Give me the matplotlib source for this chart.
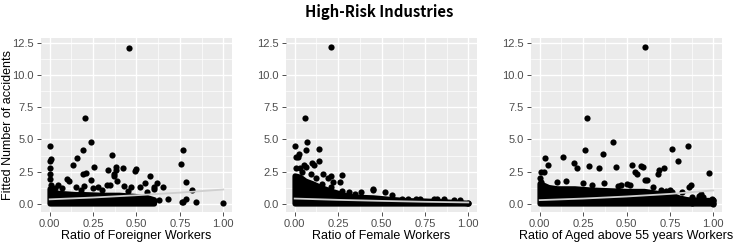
import matplotlib.pyplot as plt

# ---- data ----
# panel 1: ratio of foreigner workers
fore_x = [0.456, 0.204, 0.24, 0.0, 0.19, 0.36, 0.16, 0.01, 0.137, 0.253, 0.38, 0.38, 0.49, 0.50,
          0.42, 0.335, 0.19, 0.21, 0.37, 0.37, 0.58, 0.237, 0.39, 0.756, 0.77, 0.784, 0.82, 0.784,
          0.77, 0.76, 0.843, 1.0, 0.68, 0.63, 0.60, 0.62, 0.65, 0.60, 0.55, 0.52, 0.47, 0.43, 0.35,
          0.33, 0.28, 0.10, 0.11, 0.05, 0.07, 0.15, 0.20, 0.0, 0.0, 0.0, 0.0, 0.005, 0.25, 0.30,
          0.45, 0.56, 0.18, 0.03]
fore_y = [12.1, 6.65, 4.78, 4.5, 4.15, 3.8, 3.55, 3.5, 3.0, 2.88, 2.9, 2.62, 2.55, 2.7,
          2.75, 2.63, 2.3, 2.4, 2.3, 2.2, 2.2, 1.85, 1.75, 3.1, 4.2, 1.7, 1.05, 0.37,
          0.15, 0.15, 0.15, 0.08, 0.36, 0.3, 1.3, 1.65, 1.35, 1.15, 1.6, 1.35, 1.3, 1.4, 1.5,
          1.45, 1.35, 1.9, 1.75, 1.5, 1.2, 1.3, 1.4, 3.3, 2.8, 2.3, 1.9, 1.5, 1.2, 1.1,
          1.0, 0.9, 1.1, 1.25]
fore_band_x = [0.0, 0.02, 0.05, 0.1, 0.15, 0.2, 0.3, 0.4, 0.5, 0.55, 0.6]
fore_band_top = [1.2, 0.95, 0.85, 0.8, 0.75, 0.75, 0.7, 0.7, 0.6, 0.55, 0.35]
fore_fit_x = [0.0, 0.25, 0.5, 0.75, 1.0]
fore_fit_y = [0.36, 0.5, 0.68, 0.88, 1.12]

# panel 2: ratio of female workers
fem_x = [0.207, 0.06, 0.073, 0.0, 0.14, 0.065, 0.027, 0.01, 0.02, 0.14, 0.10, 0.11, 0.055, 0.065,
         0.01, 0.165, 0.27, 0.21, 0.19, 0.094, 0.044, 0.16, 0.22, 0.26, 0.21, 0.27, 0.31, 0.38,
         0.45, 0.45, 0.52, 0.56, 0.62, 0.65, 0.70, 0.72, 0.80, 0.82, 0.86, 0.92, 0.95, 1.0,
         0.35, 0.12, 0.03]
fem_y = [12.15, 6.67, 4.8, 4.5, 4.25, 4.15, 3.85, 3.6, 3.6, 3.3, 3.15, 3.0, 3.0, 2.9,
         2.75, 2.3, 2.25, 2.15, 2.0, 2.3, 2.5, 1.55, 1.7, 1.7, 1.35, 1.0, 0.9, 0.95,
         1.15, 1.05, 0.9, 0.7, 0.42, 0.4, 0.42, 0.4, 0.42, 0.4, 0.35, 0.3, 0.3, 0.05,
         0.75, 2.0, 2.8]
fem_band_x = [0.0, 0.03, 0.06, 0.1, 0.15, 0.2, 0.25, 0.3, 0.35, 0.45, 0.55, 0.65, 0.75, 0.85, 0.95, 1.0]
fem_band_top = [2.2, 2.1, 1.8, 1.6, 1.3, 1.05, 0.85, 0.65, 0.55, 0.5, 0.38, 0.28, 0.25, 0.2, 0.12, 0.08]
fem_fit_x = [0.0, 0.25, 0.5, 0.75, 1.0]
fem_fit_y = [0.42, 0.32, 0.24, 0.17, 0.12]

# panel 3: ratio of aged above 55 years workers
aged_x = [0.607, 0.272, 0.423, 0.854, 0.76, 0.259, 0.366, 0.033, 0.136, 0.795, 0.05, 0.20, 0.284,
          0.44, 0.343, 0.53, 0.582, 0.594, 0.715, 0.69, 0.68, 0.973, 0.213, 0.008, 0.027, 0.55,
          0.56, 0.607, 0.62, 0.37, 0.467, 0.50, 0.86, 0.87, 0.82, 0.78, 0.83, 0.875, 0.90, 0.93,
          0.94, 1.0, 1.0, 0.955, 0.0, 0.01, 0.10, 0.15, 0.25, 0.30, 0.45, 0.52, 0.65, 0.70, 0.73,
          0.75, 0.76, 0.85, 0.88, 0.92, 0.97, 0.99]
aged_y = [12.15, 6.67, 4.8, 4.5, 4.25, 4.15, 3.85, 3.55, 3.6, 3.3, 3.05, 3.15, 2.97,
          2.9, 2.8, 3.0, 2.97, 2.9, 2.77, 2.6, 2.35, 2.4, 2.77, 2.5, 2.45, 2.45,
          2.3, 1.83, 1.83, 1.6, 1.47, 1.55, 1.3, 1.45, 0.95, 0.55, 0.3, 0.05, 0.3, 0.8,
          0.55, 0.3, 0.0, 0.2, 2.0, 1.7, 1.7, 1.8, 1.6, 1.5, 1.4, 1.5, 1.3, 1.05, 1.0,
          1.1, 0.95, 0.3, 0.55, 0.6, 0.2, 0.4]
aged_band_x = [0.0, 0.05, 0.1, 0.2, 0.3, 0.4, 0.5, 0.55, 0.6, 0.65, 0.7, 0.75, 0.8, 0.85, 0.9, 0.95, 1.0]
aged_band_top = [1.6, 1.3, 1.2, 1.2, 1.1, 1.05, 1.0, 1.0, 1.0, 0.9, 0.8, 0.75, 0.5, 0.35, 0.3, 0.3, 0.3]
aged_fit_x = [0.0, 0.25, 0.5, 0.75, 1.0]
aged_fit_y = [0.3, 0.42, 0.58, 0.78, 1.05]

x_ticks = [0.0, 0.25, 0.5, 0.75, 1.0]
x_ticklabels = ['0.00', '0.25', '0.50', '0.75', '1.00']
y_ticks = [0.0, 2.5, 5.0, 7.5, 10.0, 12.5]
y_ticklabels = ['0.0', '2.5', '5.0', '7.5', '10.0', '12.5']

panels = [
    (fore_x, fore_y, fore_band_x, fore_band_top, fore_fit_x, fore_fit_y, 'Ratio of Foreigner Workers'),
    (fem_x, fem_y, fem_band_x, fem_band_top, fem_fit_x, fem_fit_y, 'Ratio of Female Workers'),
    (aged_x, aged_y, aged_band_x, aged_band_top, aged_fit_x, aged_fit_y, 'Ratio of Aged above 55 years Workers'),
]

plt.rcParams['font.family'] = ['Liberation Sans', 'DejaVu Sans']

fig = plt.figure(figsize=(7.35, 2.46), dpi=100)
lefts = [41 / 735, 286 / 735, 531 / 735]

for i, (px, py, bx, btop, fx, fy, xlabel) in enumerate(panels):
    ax = fig.add_axes([lefts[i], 34 / 246, 191 / 735, 174 / 246])
    ax.set_facecolor('#EBEBEB')
    for s in ax.spines.values():
        s.set_visible(False)
    # minor + major grid lines, ggplot style
    for v in [0.125, 0.375, 0.625, 0.875]:
        ax.axvline(v, color='white', lw=0.5, zorder=0)
    for v in [1.25, 3.75, 6.25, 8.75, 11.25]:
        ax.axhline(v, color='white', lw=0.5, zorder=0)
    for v in x_ticks:
        ax.axvline(v, color='white', lw=1.0, zorder=0)
    for v in y_ticks:
        ax.axhline(v, color='white', lw=1.0, zorder=0)

    # dense mass of points near zero
    ax.fill_between(bx, [0.05] * len(bx), btop, color='black', lw=4, zorder=2)
    ax.scatter(px, py, s=20, color='black', linewidths=0, zorder=3)
    ax.plot(fx, fy, color='#cfcfcf', lw=1.3, zorder=4)

    ax.set_xlim(-0.05, 1.05)
    ax.set_ylim(-0.62, 12.85)
    ax.set_xticks(x_ticks)
    ax.set_xticklabels(x_ticklabels)
    ax.set_yticks(y_ticks)
    ax.set_yticklabels(y_ticklabels)
    ax.tick_params(colors='#333333', labelcolor='#4D4D4D', labelsize=8, length=3, width=0.6, pad=2)
    ax.set_xlabel(xlabel, fontsize=9, color='black', labelpad=1)
    if i == 0:
        ax.set_ylabel('Fitted Number of accidents', fontsize=9, color='black', va='center')
        ax.yaxis.set_label_coords(-0.172, 0.5)

fig.text(0.5156, 0.951, 'High-Risk Industries', ha='center', va='center', fontsize=10.7,
         fontweight='bold', family=['Noto Sans CJK KR', 'DejaVu Sans'])

fig.savefig('out.png', dpi=100)
